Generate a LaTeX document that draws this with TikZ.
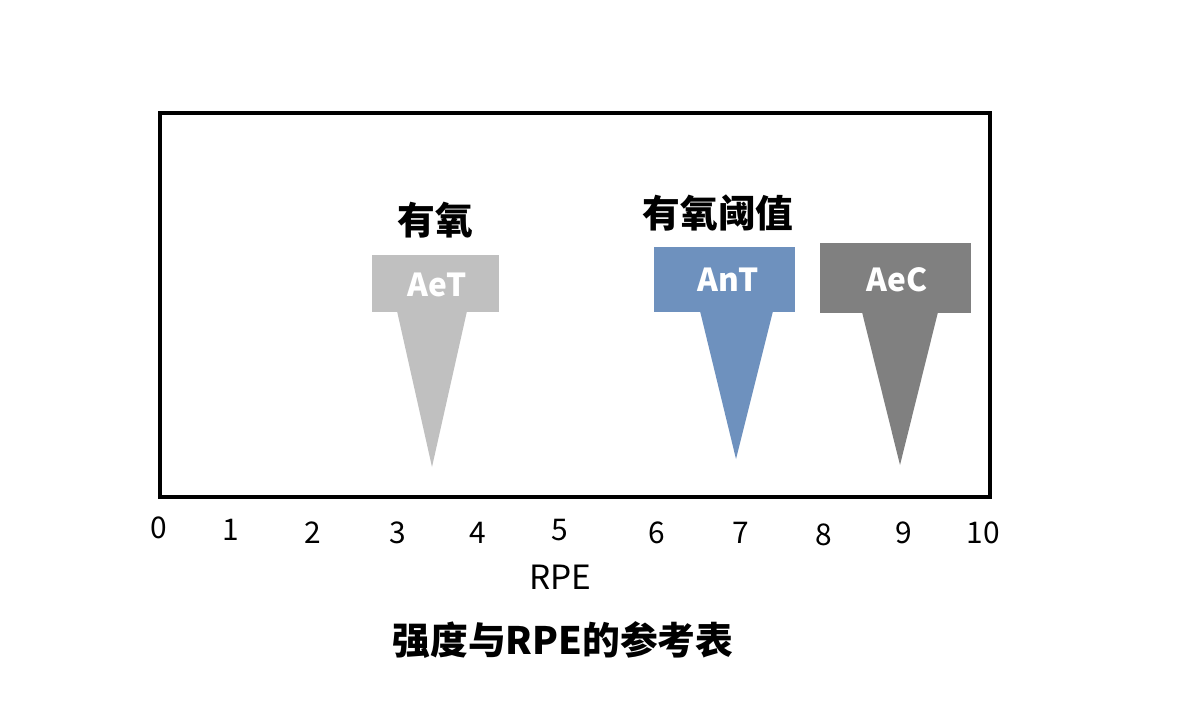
\documentclass[tikz,border=0pt]{standalone}
\usepackage{fontspec}
\newfontfamily\cjk{Noto Sans CJK SC}
\definecolor{aetc}{HTML}{C0C0C0}
\definecolor{antc}{HTML}{6E91BE}
\definecolor{aecc}{HTML}{808080}
\tikzset{
  tick/.style={font=\cjk\fontsize{17}{19}\selectfont, inner sep=0pt},
  lab/.style={font=\cjk\fontsize{21.5}{24}\selectfont\bfseries, inner sep=0pt},
  intext/.style={font=\cjk\fontsize{18}{20}\selectfont\bfseries, text=white, inner sep=0pt},
}
\begin{document}
\begin{tikzpicture}[x=0.02cm,y=-0.02cm]
\useasboundingbox (0,0) rectangle (1200,701);
% frame
\draw[line width=2.3pt] (160,113) rectangle (990,497);
% AeT
\fill[aetc] (372,255) rectangle (499,312);
\fill[aetc] (397,311) -- (467,311) -- (432,467) -- cycle;
\node[intext] (aet) at (437,285) {AeT};
% AnT
\fill[antc] (654,247) rectangle (795,312);
\fill[antc] (700,311) -- (773,311) -- (736,459) -- cycle;
\node[intext] (ant) at (728,280) {AnT};
% AeC
\fill[aecc] (820,243) rectangle (971,313);
\fill[aecc] (862,312) -- (938,312) -- (900,465) -- cycle;
\node[intext] (aec) at (897,280) {AeC};
% labels
\node[lab] (l1) at (435,220) {有氧};
\node[lab] (l2) at (718,213) {有氧阈值};
% ticks
\node[tick] (t0) at (159,528) {0};
\node[tick] (t1) at (231,530) {1};
\node[tick] (t2) at (313,533) {2};
\node[tick] (t3) at (398,533) {3};
\node[tick] (t4) at (478,533) {4};
\node[tick] (t5) at (560,530) {5};
\node[tick] (t6) at (657,533) {6};
\node[tick] (t7) at (741,533) {7};
\node[tick] (t8) at (824,535) {8};
\node[tick] (t9) at (904,533) {9};
\node[tick] (t10) at (983,533) {10};
\node[tick, font=\cjk\fontsize{19}{21}\selectfont] (rpe) at (560,577) {RPE};
\node[lab] (title) at (563,640) {强度与RPE的参考表};
\end{tikzpicture}
\end{document}
